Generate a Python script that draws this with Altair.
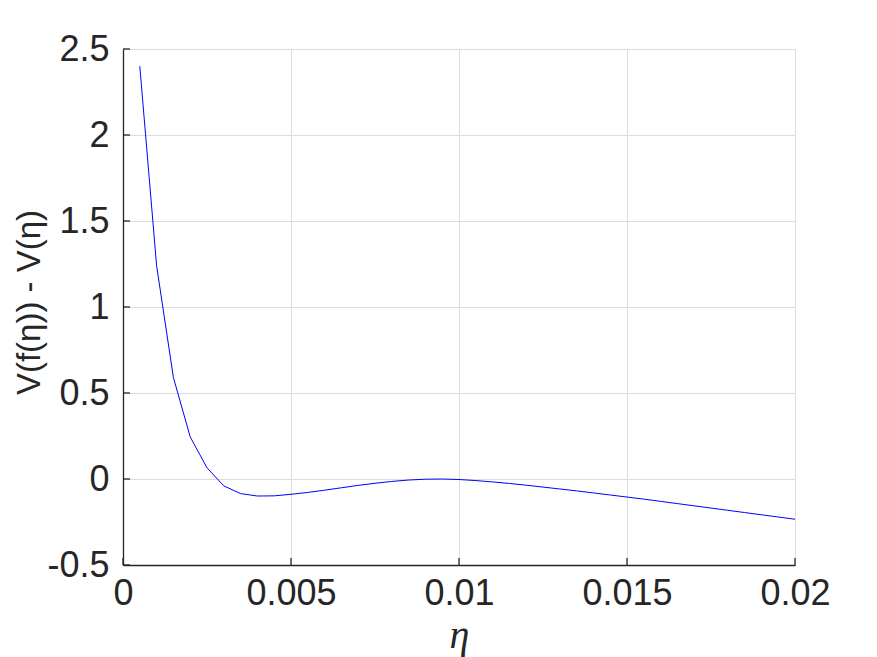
import altair as alt
import pandas as pd

eta = [0.0005, 0.001, 0.0015, 0.002, 0.0025, 0.003, 0.0035, 0.004, 0.0045, 0.005,
       0.0055, 0.006, 0.0065, 0.007, 0.0075, 0.008, 0.0085, 0.009, 0.0095, 0.01,
       0.0105, 0.011, 0.0115, 0.012, 0.0125, 0.013, 0.0135, 0.014, 0.0145, 0.015,
       0.0155, 0.016, 0.0165, 0.017, 0.0175, 0.018, 0.0185, 0.019, 0.0195, 0.02]
dv = [2.40, 1.24, 0.59, 0.245, 0.065, -0.04, -0.085, -0.099, -0.098, -0.089,
      -0.078, -0.065, -0.051, -0.037, -0.025, -0.014, -0.006, -0.001, 0.0, -0.003,
      -0.009, -0.017, -0.026, -0.036, -0.047, -0.058, -0.069, -0.081, -0.093, -0.105,
      -0.117, -0.130, -0.143, -0.156, -0.169, -0.182, -0.195, -0.208, -0.221, -0.234]
x_ticks = [0, 0.005, 0.01, 0.015, 0.02]
y_ticks = [-0.5, 0, 0.5, 1, 1.5, 2, 2.5]

W, H = 672, 516
df = pd.DataFrame({"eta": eta, "dv": dv})
xt = pd.DataFrame({"eta": x_ticks})
yt = pd.DataFrame({"dv": y_ticks})

xs = alt.Scale(domain=[0, 0.02], nice=False, zero=False)
ys = alt.Scale(domain=[-0.5, 2.5], nice=False, zero=False)

FONT = "Liberation Sans"
TXT = "#262626"
LBL = "'' + datum.value"

xaxis = alt.Axis(values=x_ticks, labelExpr=LBL, labelFontSize=36, labelFont=FONT,
                 labelColor=TXT, labelPadding=11, tickSize=0, domainColor=TXT,
                 domainWidth=1.3, gridColor="#dcdcdc", title="η", titleFont="Liberation Serif",
                 titleFontStyle="italic", titleFontWeight="normal", titleFontSize=40,
                 titleColor=TXT, titlePadding=4, labelFlush=False)
yaxis = alt.Axis(values=y_ticks, labelExpr=LBL, labelFontSize=36, labelFont=FONT,
                 labelColor=TXT, labelPadding=14, tickSize=0, domainColor=TXT,
                 domainWidth=1.3, gridColor="#dcdcdc", title="V(f(η)) - V(η)",
                 titleFont=FONT, titleFontWeight="normal", titleFontSize=33,
                 titleColor=TXT, titleX=-94, titleY=H / 2 - 5, titleBaseline="middle",
                 labelFlush=False)

line = alt.Chart(df).mark_line(color="#0000ff", strokeWidth=1).encode(
    x=alt.X("eta:Q", scale=xs, axis=xaxis),
    y=alt.Y("dv:Q", scale=ys, axis=yaxis),
)

xtick = alt.Chart(xt).mark_rule(color=TXT, strokeWidth=1.3).encode(
    x=alt.X("eta:Q", scale=xs, axis=xaxis),
    y=alt.value(H), y2=alt.value(H - 7),
)
ytick = alt.Chart(yt).mark_rule(color=TXT, strokeWidth=1.3).encode(
    y=alt.Y("dv:Q", scale=ys, axis=yaxis),
    x=alt.value(0), x2=alt.value(7),
)

chart = alt.layer(line, xtick, ytick).properties(
    width=W, height=H,
    autosize=alt.AutoSizeParams(type="none"),
    padding={"left": 115, "top": 41, "right": 74, "bottom": 92},
    background="white",
).configure_view(stroke=None)

chart.save("out.html", embed_options={"renderer": "svg", "actions": False})
